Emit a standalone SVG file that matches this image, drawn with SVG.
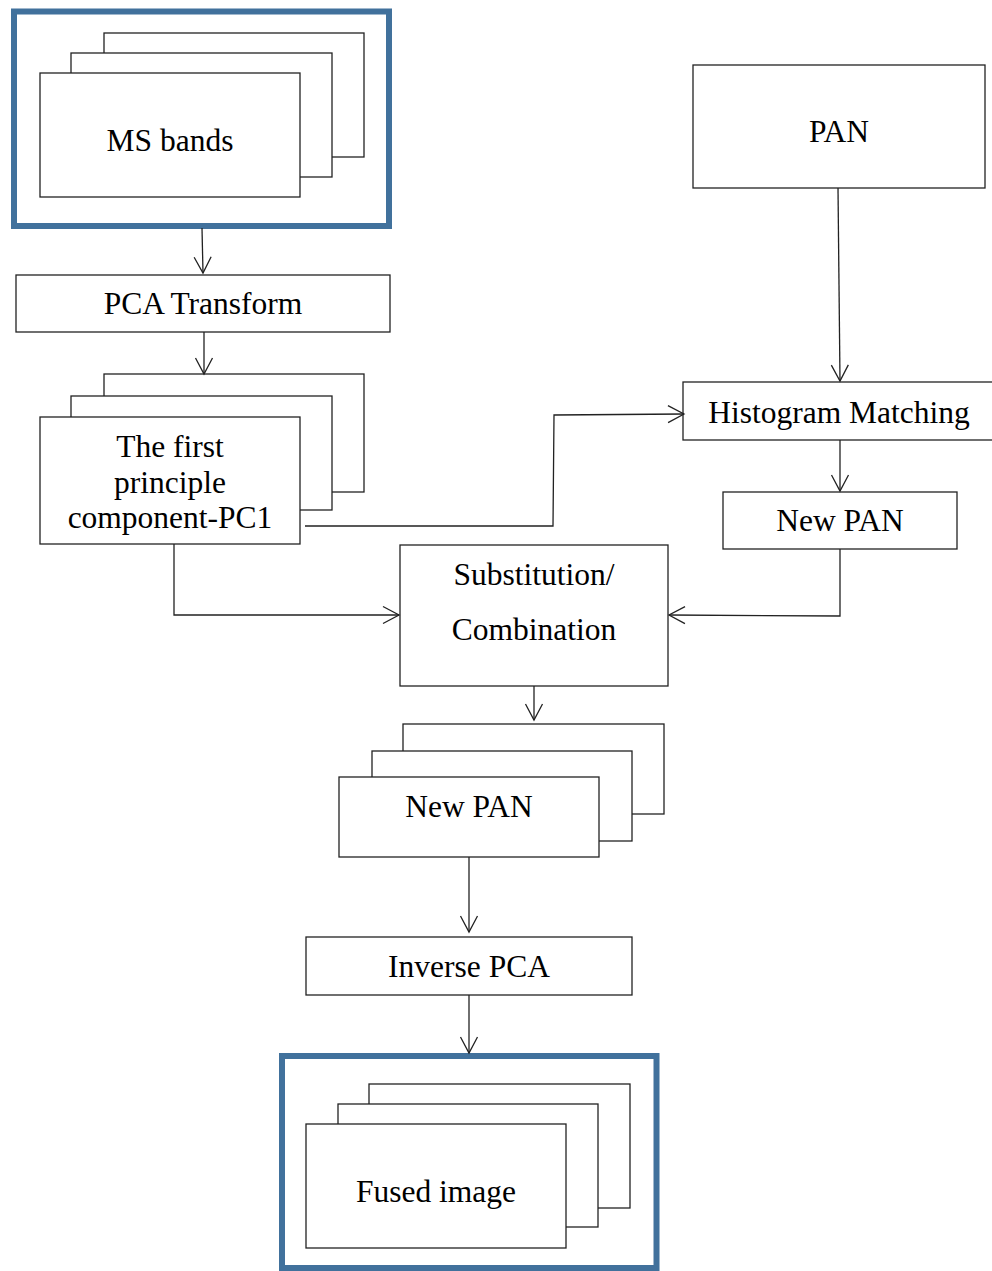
<svg xmlns="http://www.w3.org/2000/svg" width="992" height="1271" viewBox="0 0 992 1271">
  <style>
    .box { fill: #ffffff; stroke: #222222; stroke-width: 1.3; }
    .frame { fill: #ffffff; stroke: #41719c; stroke-width: 6; }
    .lbl { font-family: "Liberation Serif", "Times New Roman", serif; font-size: 31.5px; fill: #000000; text-anchor: middle; }
    .wire { fill: none; stroke: #222222; stroke-width: 1.3; marker-end: url(#arrow); }
  </style>
  <defs>
    <marker id="arrow" markerUnits="userSpaceOnUse" markerWidth="20" markerHeight="20" refX="17" refY="10" orient="auto">
      <path d="M1,1.5 L17,10 L1,18.5" fill="none" stroke="#222222" stroke-width="1.3"/>
    </marker>
  </defs>

  <!-- input multispectral bands -->
  <g id="ms-bands">
    <rect class="frame" x="14" y="11.5" width="375" height="214.5"/>
    <rect class="box" x="104" y="33" width="260" height="124"/>
    <rect class="box" x="71" y="53" width="261" height="124"/>
    <rect class="box" x="40" y="73" width="260" height="124"/>
    <text class="lbl" x="170" y="151">MS bands</text>
  </g>

  <g id="pca-transform">
    <rect class="box" x="16" y="275" width="374" height="57"/>
    <text class="lbl" x="203" y="314">PCA Transform</text>
  </g>

  <g id="pc1">
    <rect class="box" x="104" y="374" width="260" height="118"/>
    <rect class="box" x="71" y="396" width="261" height="114"/>
    <rect class="box" x="40" y="417" width="260" height="127"/>
    <text class="lbl" x="170" y="457">The first</text>
    <text class="lbl" x="170" y="493">principle</text>
    <text class="lbl" x="170" y="528">component-PC1</text>
  </g>

  <g id="pan">
    <rect class="box" x="693" y="65" width="292" height="123"/>
    <text class="lbl" x="839" y="142">PAN</text>
  </g>

  <g id="histogram-matching">
    <rect class="box" x="683" y="382" width="320" height="58"/>
    <text class="lbl" x="839" y="423">Histogram Matching</text>
  </g>

  <g id="new-pan-matched">
    <rect class="box" x="723" y="492" width="234" height="57"/>
    <text class="lbl" x="840" y="531">New PAN</text>
  </g>

  <g id="substitution">
    <rect class="box" x="400" y="545" width="268" height="141"/>
    <text class="lbl" x="534" y="585">Substitution/</text>
    <text class="lbl" x="534" y="640">Combination</text>
  </g>

  <g id="new-pan-stack">
    <rect class="box" x="403" y="724" width="261" height="90"/>
    <rect class="box" x="372" y="751" width="260" height="90"/>
    <rect class="box" x="339" y="777" width="260" height="80"/>
    <text class="lbl" x="469" y="817">New PAN</text>
  </g>

  <g id="inverse-pca">
    <rect class="box" x="306" y="937" width="326" height="58"/>
    <text class="lbl" x="469" y="977">Inverse PCA</text>
  </g>

  <!-- output fused bands -->
  <g id="fused-image">
    <rect class="frame" x="282" y="1056" width="374.5" height="212"/>
    <rect class="box" x="369" y="1084" width="261" height="124"/>
    <rect class="box" x="338" y="1104" width="260" height="123"/>
    <rect class="box" x="306" y="1124" width="260" height="124"/>
    <text class="lbl" x="436" y="1202">Fused image</text>
  </g>

  <g id="connectors">
    <path class="wire" d="M202,228 L203,273"/>
    <path class="wire" d="M204,332 L204,374"/>
    <path class="wire" d="M305,526 L553,526 L554,415 L684,414"/>
    <path class="wire" d="M838,188 L840,381"/>
    <path class="wire" d="M840,440 L840,491"/>
    <path class="wire" d="M840,549 L840,616 L669,615"/>
    <path class="wire" d="M174,544 L174,615 L399,615"/>
    <path class="wire" d="M534,686 L534,720"/>
    <path class="wire" d="M469,857 L469,932"/>
    <path class="wire" d="M469,995 L469,1053"/>
  </g>
</svg>
